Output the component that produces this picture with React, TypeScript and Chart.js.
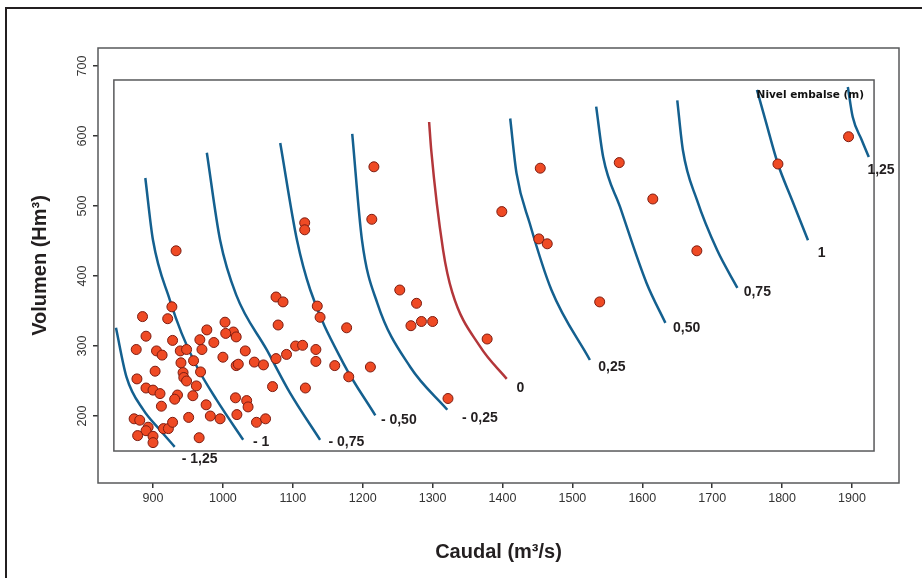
import React, { useEffect, useRef } from 'react';
import { Chart, registerables } from 'chart.js';

Chart.register(...registerables);

// Observations: Caudal (m3/s) vs Volumen (Hm3)
const caudal = [
  933, 927, 885, 921, 1003, 977, 1015, 1004, 1019, 890, 1079, 967, 928, 987, 876, 905, 913, 939, 948, 970,
  1032, 1000, 958, 940, 1019, 1022, 1045, 1058, 1076, 1091, 903, 943, 968, 877, 944, 948, 962, 1071, 890, 900,
  910, 935, 931, 957, 1018, 1034, 1036, 976, 912, 951, 982, 996, 1020, 1048, 1061, 873, 881, 893, 890, 915,
  922, 928, 878, 900, 900, 966, 1076, 1086, 1135, 1139, 1177, 1104, 1114, 1133, 1133, 1160, 1211, 1118, 1180, 1253,
  1277, 1269, 1284, 1300, 1378, 1322, 1117, 1117, 1216, 1213, 1454, 1399, 1452, 1464, 1567, 1615, 1539, 1678, 1794, 1895,
];
const volumen = [
  436, 356, 342, 339, 334, 323, 320, 318, 313, 314, 330, 309, 308, 305, 295, 293, 287, 293, 295, 295,
  293, 284, 279, 276, 272, 274, 277, 273, 282, 288, 264, 262, 263, 253, 255, 250, 243, 242, 240, 237,
  232, 230, 224, 229, 226, 222, 213, 216, 214, 198, 200, 196, 202, 191, 196, 196, 194, 184, 179, 182,
  182, 191, 172, 171, 162, 169, 370, 363, 357, 341, 326, 300, 301, 295, 278, 272, 270, 240, 256, 380,
  361, 329, 335, 335, 310, 225, 476, 466, 556, 481, 554, 492, 453, 446, 562, 510, 363, 436, 560, 599,
];

// Iso-level curves (Nivel embalse, m)
const m125X = [847, 862, 886, 910, 931];
const m125Y = [326, 256, 209, 180, 156];
const m100X = [889, 900, 924, 941, 963, 991, 1029];
const m100Y = [540, 451, 366, 318, 270, 223, 166];
const m075X = [977, 996, 1019, 1063, 1096, 1139];
const m075Y = [576, 451, 373, 294, 233, 166];
const m050X = [1082, 1106, 1125, 1172, 1218];
const m050Y = [590, 451, 380, 276, 201];
const m025X = [1185, 1199, 1221, 1268, 1321];
const m025Y = [603, 451, 361, 270, 209];
const zeroX = [1295, 1298, 1315, 1328, 1368, 1406];
const zeroY = [620, 580, 437, 377, 299, 253];
const p025X = [1411, 1420, 1439, 1470, 1525];
const p025Y = [625, 547, 475, 380, 280];
const p050X = [1534, 1544, 1568, 1606, 1633];
const p050Y = [642, 570, 499, 390, 333];
const p075X = [1650, 1658, 1678, 1707, 1736];
const p075Y = [651, 580, 509, 437, 383];
const p100X = [1764, 1776, 1794, 1814, 1837];
const p100Y = [666, 623, 560, 509, 451];
const p125X = [1894, 1901, 1914, 1924];
const p125Y = [670, 627, 594, 570];

const levelLabels = ['- 1,25', '- 1', '- 0,75', '- 0,50', '- 0,25', '0', '0,25', '0,50', '0,75', '1', '1,25'];
const levelLabelX = [941, 1043, 1151, 1226, 1342, 1420, 1537, 1644, 1745, 1851, 1922];
const levelLabelY = [139, 162, 162, 194, 197, 240, 270, 325, 377, 433, 551];

const xTicks = [900, 1000, 1100, 1200, 1300, 1400, 1500, 1600, 1700, 1800, 1900];
const yTicks = [200, 300, 400, 500, 600, 700];

const X_MIN = 821.3;
const X_MAX = 1967.2;
const Y_MIN = 104.3;
const Y_MAX = 725.7;
// inner frame in data units
const innerX = [844, 1931.5];
const innerY = [150, 680];

const BLUE = '#14608f';
const RED = '#b3363a';

const toPts = (xs: number[], ys: number[]) => xs.map((x, i) => ({ x, y: ys[i] }));

const curveSets: [number[], number[], string][] = [
  [m125X, m125Y, BLUE],
  [m100X, m100Y, BLUE],
  [m075X, m075Y, BLUE],
  [m050X, m050Y, BLUE],
  [m025X, m025Y, BLUE],
  [zeroX, zeroY, RED],
  [p025X, p025Y, BLUE],
  [p050X, p050Y, BLUE],
  [p075X, p075Y, BLUE],
  [p100X, p100Y, BLUE],
  [p125X, p125Y, BLUE],
];

const decorPlugin = {
  id: 'decor',
  beforeDraw(chart: any) {
    const { ctx, width, height } = chart;
    ctx.save();
    ctx.fillStyle = '#ffffff';
    ctx.fillRect(0, 0, width, height);
    ctx.strokeStyle = '#231f20';
    ctx.lineWidth = 2;
    ctx.beginPath();
    ctx.moveTo(6, height + 10);
    ctx.lineTo(6, 8);
    ctx.lineTo(width + 10, 8);
    ctx.stroke();
    ctx.restore();
  },
  beforeDatasetsDraw(chart: any) {
    const { ctx, chartArea, scales } = chart;
    ctx.save();
    ctx.strokeStyle = '#58595b';
    ctx.lineWidth = 1.5;
    ctx.strokeRect(chartArea.left, chartArea.top, chartArea.right - chartArea.left, chartArea.bottom - chartArea.top);
    const x0 = scales.x.getPixelForValue(innerX[0]);
    const x1 = scales.x.getPixelForValue(innerX[1]);
    const y0 = scales.y.getPixelForValue(innerY[1]);
    const y1 = scales.y.getPixelForValue(innerY[0]);
    ctx.strokeRect(x0, y0, x1 - x0, y1 - y0);
    ctx.restore();
  },
  afterDatasetsDraw(chart: any) {
    const { ctx, scales } = chart;
    ctx.save();
    ctx.fillStyle = '#231f20';
    ctx.font = 'bold 14px "Liberation Sans", Arial, sans-serif';
    ctx.textAlign = 'left';
    ctx.textBaseline = 'middle';
    levelLabels.forEach((t, i) => {
      ctx.fillText(t, scales.x.getPixelForValue(levelLabelX[i]), scales.y.getPixelForValue(levelLabelY[i]));
    });
    const rx = scales.x.getPixelForValue(innerX[1]);
    const ty = scales.y.getPixelForValue(innerY[1]);
    ctx.font = 'bold 10.5px "DejaVu Sans", sans-serif';
    ctx.textAlign = 'right';
    ctx.fillStyle = '#111';
    ctx.fillText('Nivel embalse (m)', rx - 10, ty + 15);
    ctx.restore();
  },
};

export default function App() {
  const ref = useRef<HTMLCanvasElement>(null);
  useEffect(() => {
    document.body.style.margin = '0';
    const datasets: any[] = [
      {
        type: 'scatter',
        data: toPts(caudal, volumen),
        pointRadius: 5,
        pointHoverRadius: 5,
        backgroundColor: '#ef4a24',
        borderColor: '#7d1d12',
        borderWidth: 1,
      },
      ...curveSets.map(([xs, ys, c]) => ({
        type: 'line',
        data: toPts(xs, ys),
        borderColor: c,
        borderWidth: 2.5,
        pointRadius: 0,
        fill: false,
        cubicInterpolationMode: 'monotone',
      })),
    ];
    const chart = new Chart(ref.current as HTMLCanvasElement, {
      type: 'scatter',
      data: { datasets },
      plugins: [decorPlugin],
      options: {
        animation: false,
        responsive: false,
        maintainAspectRatio: false,
        events: [],
        layout: { padding: { left: 0, top: 48, right: 23, bottom: 0 } },
        plugins: { legend: { display: false }, tooltip: { enabled: false } },
        scales: {
          x: {
            type: 'linear',
            min: X_MIN,
            max: X_MAX,
            afterBuildTicks: (s: any) => { s.ticks = xTicks.map((v) => ({ value: v })); },
            afterFit: (s: any) => { s.height = 95; },
            border: { display: false },
            grid: { drawOnChartArea: false, drawTicks: true, tickLength: 5, color: '#333', lineWidth: 1.5 },
            ticks: {
              padding: 3,
              color: '#333',
              font: { family: '"Liberation Sans", Arial, sans-serif', size: 12.5 },
              maxRotation: 0,
              minRotation: 0,
              callback: (v: any) => String(v),
            },
            title: {
              display: true,
              text: 'Caudal (m³/s)',
              color: '#231f20',
              font: { family: '"Liberation Sans", Arial, sans-serif', size: 20, weight: 'bold' },
              padding: { top: 0, bottom: 14 },
            },
          },
          y: {
            type: 'linear',
            min: Y_MIN,
            max: Y_MAX,
            afterBuildTicks: (s: any) => { s.ticks = yTicks.map((v) => ({ value: v })); },
            afterFit: (s: any) => { s.width = 98; },
            border: { display: false },
            grid: { drawOnChartArea: false, drawTicks: true, tickLength: 5, color: '#333', lineWidth: 1.5 },
            ticks: {
              padding: 0,
              color: '#333',
              minRotation: 90,
              maxRotation: 90,
              crossAlign: 'center',
              font: { family: '"Liberation Sans", Arial, sans-serif', size: 12.5 },
              callback: (v: any) => String(v),
            },
            title: {
              display: true,
              text: 'Volumen (Hm³)',
              color: '#231f20',
              font: { family: '"Liberation Sans", Arial, sans-serif', size: 20, weight: 'bold' },
              padding: { top: 28, bottom: 0 },
            },
          },
        },
      } as any,
    });
    return () => chart.destroy();
  }, []);
  return (
    <div style={{ position: 'fixed', left: 0, top: 0, width: 922, height: 578 }}>
      <canvas ref={ref} width={922} height={578} style={{ display: 'block' }} />
    </div>
  );
}
